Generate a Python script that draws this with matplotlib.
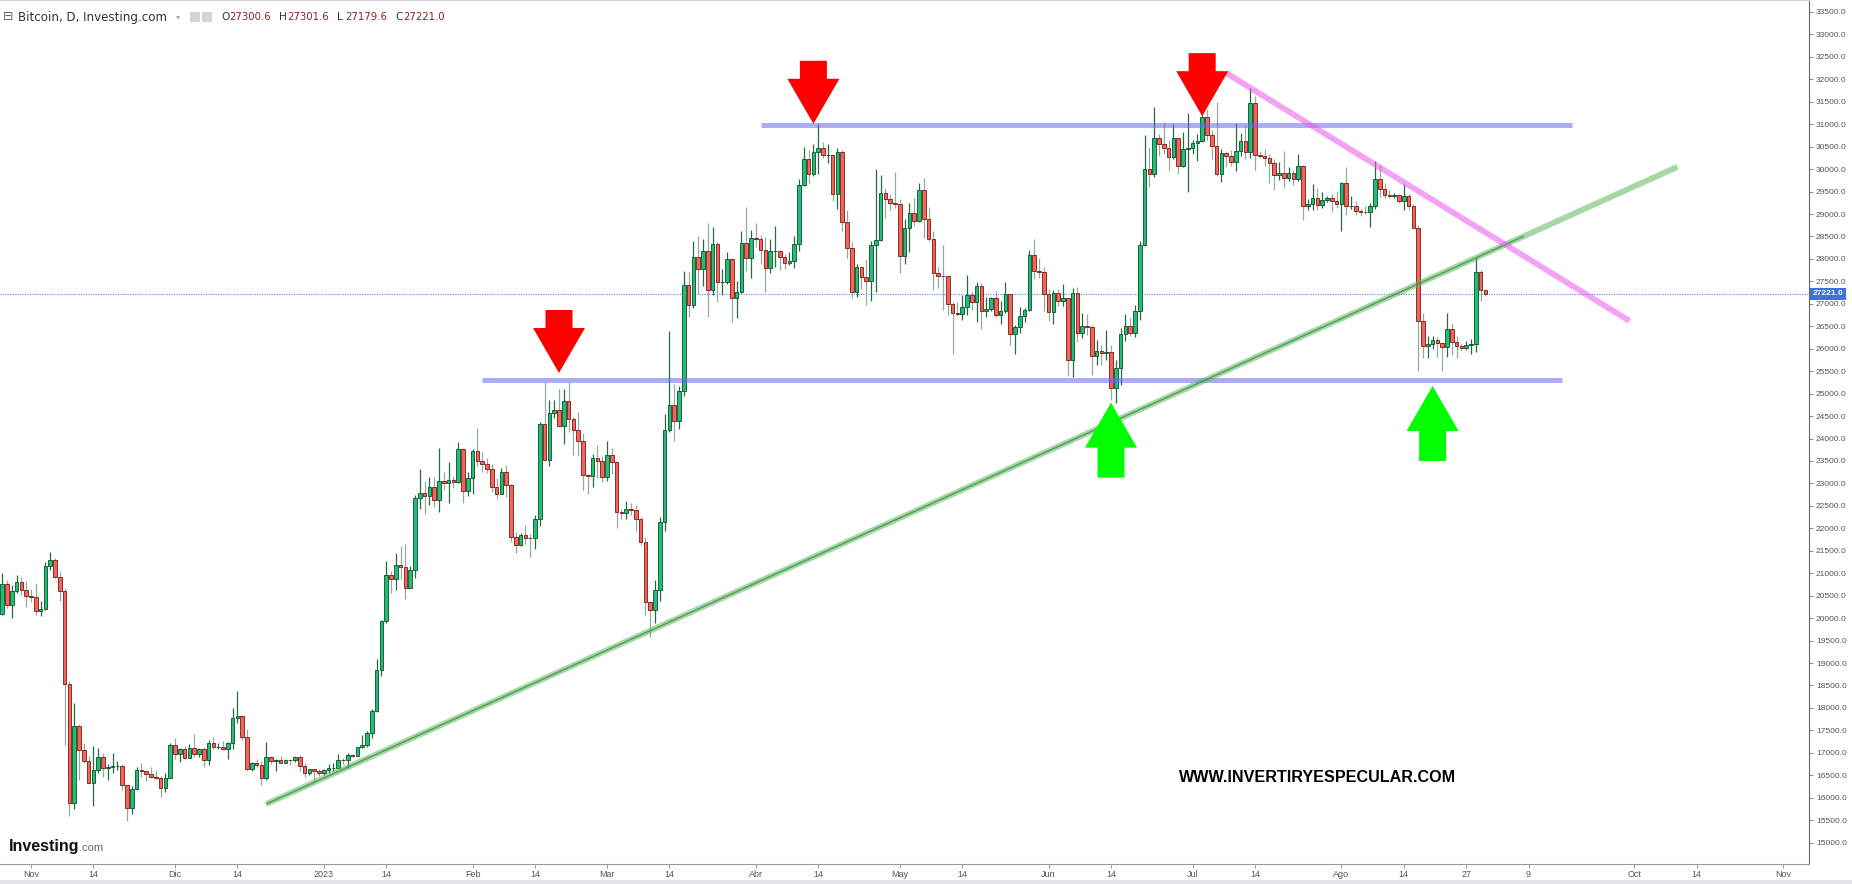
"""
Bitcoin daily candles (Investing.com style) with support/resistance annotations.
Output: out.png
"""
import numpy as np
import pandas as pd
import matplotlib
matplotlib.use("Agg")
import matplotlib.pyplot as plt
import matplotlib.dates as mdates
from matplotlib.patches import Polygon, Rectangle
from matplotlib.transforms import blended_transform_factory
from matplotlib import font_manager

# ---- data: daily BTC/USD, 2022-10-25 .. 2023-08-31 ----
FIRST_DAY = "2022-10-25"
FIRST_OPEN = 19330.0

closes = [
    # oct 25-31
    20090, 20770, 20290, 20600, 20810, 20630, 20490,
    # nov
    20480, 20150, 20210, 21150, 21300, 20910, 20600, 18540, 15880, 17590,
    17070, 16810, 16330, 16620, 16900, 16660, 16690, 16700, 16710, 16280,
    15780, 16200, 16610, 16600, 16520, 16460, 16440, 16220, 16440, 17170,
    # dec
    16970, 17090, 16890, 17110, 16970, 17090, 16840, 17220, 17130, 17130,
    17090, 17210, 17780, 17810, 17360, 16630, 16780, 16740, 16440, 16900,
    16820, 16830, 16780, 16840, 16830, 16910, 16700, 16550, 16630, 16600, 16540,
    # jan
    16610, 16670, 16670, 16850, 16830, 16950, 16940, 17120, 17180, 17440,
    17940, 18850, 19930, 20950, 20870, 21180, 21130, 20680, 21070, 22670,
    22780, 22710, 22920, 22630, 23060, 23010, 23080, 23030, 23770, 22840, 23130,
    # feb
    23730, 23490, 23430, 23330, 22930, 22760, 23260, 22960, 21800, 21630,
    21860, 21790, 21780, 22200, 24330, 23520, 24570, 24630, 24280, 24830,
    24440, 24190, 23940, 23190, 23160, 23560, 23490, 23140,
    # mar
    23630, 23470, 22360, 22350, 22430, 22410, 22200, 21700, 20360, 20190,
    20630, 22140, 24200, 24750, 24380, 25060, 27420, 26970, 28040, 27770,
    28170, 27310, 28330, 27490, 27490, 27990, 27140, 27270, 28350, 28030, 28470,
    # apr
    28450, 28200, 27790, 28170, 28170, 28040, 27910, 27950, 28330, 29650,
    30230, 29890, 30390, 30480, 30320, 30320, 29450, 30390, 28820, 28250,
    27270, 27820, 27590, 27510, 28310, 28420, 29470, 29340, 29240, 29230,
    # may
    28070, 28680, 29030, 28850, 29530, 28900, 28450, 27690, 27630, 27620,
    26990, 26800, 26780, 26930, 27190, 27030, 27400, 26830, 26890, 27120,
    26760, 26850, 27220, 26330, 26480, 26720, 26870, 28080, 27740, 27700, 27220,
    # jun
    26820, 27250, 27070, 27120, 25760, 27240, 26350, 26500, 26480, 25840,
    25940, 25900, 25920, 25120, 25580, 26330, 26510, 26340, 26850, 28310,
    30000, 29890, 30690, 30550, 30470, 30270, 30690, 30080, 30450, 30480,
    # jul
    30590, 30620, 31160, 30770, 30510, 29900, 30350, 30290, 30170, 30410,
    30620, 30390, 31470, 30320, 30290, 30250, 30140, 29860, 29910, 29800,
    29910, 29790, 30080, 29180, 29230, 29350, 29210, 29320, 29350, 29280, 29230,
    # aug
    29700, 29180, 29180, 29070, 29050, 29040, 29180, 29770, 29560, 29430,
    29400, 29420, 29280, 29410, 29170, 28700, 26620, 26050, 26100, 26190,
    26120, 26040, 26430, 26160, 26050, 26010, 26090, 26100, 27720, 27300.6, 27221.0,
]

highs = [
    20370, 21000, 20850, 20740, 20970, 20920, 20830,
    20650, 20790, 20380, 21240, 21470, 21350, 21050, 20680, 18590, 18100,
    17650, 17220, 16920, 17150, 17110, 16990, 16750, 17000, 16810, 16750,
    16290, 16270, 16680, 16780, 16600, 16680, 16600, 16480, 16540, 17230,
    17320, 17110, 17150, 17190, 17420, 17110, 17140, 17290, 17350, 17220,
    17260, 17240, 18000, 18370, 17850, 17530, 16800, 16860, 16810, 17250,
    16920, 16860, 16940, 16860, 16860, 16940, 16960, 16770, 16650, 16640, 16640,
    16630, 16760, 16770, 16980, 16880, 16990, 16970, 17140, 17390, 17490,
    17980, 19090, 19960, 21270, 21060, 21460, 21610, 21640, 21170, 22740,
    23320, 23060, 23150, 23140, 23780, 23250, 23480, 23160, 23930, 23800, 23250,
    23770, 24240, 23700, 23560, 23430, 23130, 23340, 23420, 22990, 21920,
    21900, 22070, 21880, 22300, 24370, 25250, 24860, 24860, 25100, 25100,
    25250, 24470, 24580, 24120, 23200, 23650, 23850, 23600,
    23950, 23780, 23480, 22420, 22610, 22560, 22530, 22250, 21800, 20360,
    20850, 22260, 24540, 26390, 25220, 25180, 27740, 27700, 28400, 28500,
    28440, 28800, 28720, 28370, 27770, 28160, 28010, 27500, 28620, 29160, 28640,
    28800, 28530, 28490, 28440, 28740, 28190, 28100, 28160, 28510, 29770,
    30490, 30420, 30550, 31000, 30600, 30560, 30320, 30480, 30420, 29090,
    28370, 27880, 27830, 28000, 28390, 30000, 29880, 29570, 29440, 29940,
    29330, 28880, 29250, 29360, 29690, 29800, 29160, 28630, 27830, 28320,
    27630, 27050, 27030, 27190, 27650, 27270, 27480, 27470, 27150, 27150,
    27280, 27060, 27480, 27220, 26520, 26920, 26900, 28200, 28440, 28030, 27830,
    27330, 27300, 27330, 27440, 27130, 27350, 27370, 26800, 26780, 26530,
    26200, 26090, 26410, 26090, 25740, 26460, 26770, 26680, 26980, 28400,
    30770, 30490, 31390, 30790, 31040, 30640, 31000, 30700, 30830, 31260,
    30660, 30780, 31380, 31330, 30880, 31500, 30450, 30380, 30430, 31030,
    30800, 30980, 31800, 31630, 30400, 30440, 30330, 30230, 30170, 30400,
    30040, 29990, 30340, 30090, 29330, 29680, 29570, 29500, 29400, 29450, 29510,
    29720, 30050, 29400, 29300, 29110, 29170, 29240, 30180, 30090, 29700,
    29530, 29470, 29450, 29660, 29450, 29230, 28760, 26800, 26280, 26290,
    26260, 26130, 26800, 26570, 26290, 26100, 26170, 26210, 28050, 27760, 27301.6,
]

lows = [
    19260, 20060, 20220, 20000, 20560, 20510, 20250,
    20360, 20070, 20050, 20180, 21080, 20900, 20390, 17170, 15590, 15760,
    16390, 16770, 16310, 15820, 16560, 16460, 16400, 16550, 16620, 16180,
    15480, 15630, 16170, 16470, 16370, 16430, 16410, 16010, 16120, 16430,
    16870, 16800, 16870, 16880, 16900, 16910, 16690, 16740, 17090, 17090,
    17070, 16870, 17080, 17660, 17280, 16590, 16590, 16670, 16280, 16400,
    16750, 16590, 16770, 16770, 16730, 16790, 16600, 16470, 16500, 16340, 16490,
    16500, 16550, 16600, 16660, 16750, 16670, 16910, 16920, 17100, 17140,
    17320, 17910, 18720, 19900, 20560, 20620, 20870, 20430, 20660, 20890,
    22440, 22330, 22520, 22480, 22370, 22850, 22560, 22900, 23000, 22570, 22720,
    22770, 23380, 23250, 23240, 22800, 22650, 22760, 22700, 21700, 21460,
    21600, 21640, 21370, 21540, 22060, 23520, 23380, 24460, 24280, 23880,
    24150, 23630, 23620, 22860, 22760, 22910, 23120, 23040,
    23060, 23200, 22000, 22200, 22210, 22300, 21950, 21630, 20070, 19570,
    19890, 20380, 21940, 24150, 23940, 24220, 24940, 26710, 26900, 27220,
    27400, 26700, 27200, 27050, 27200, 27440, 26600, 26680, 27250, 27740, 27580,
    28260, 27880, 27270, 27680, 27820, 27760, 27780, 27870, 27800, 28180,
    29620, 29670, 29850, 29900, 30240, 30130, 29280, 29110, 28630, 28020,
    27140, 27150, 27340, 26970, 27070, 27260, 28400, 28910, 29100, 29130,
    27680, 27890, 28150, 28730, 28820, 28470, 28410, 27300, 27350, 26870,
    26760, 25880, 26720, 26650, 26760, 26870, 26590, 26450, 26700, 26850,
    26700, 26550, 26800, 26090, 25880, 26340, 26600, 26850, 27550, 27580, 26850,
    26620, 26540, 26960, 26950, 25400, 25380, 26150, 26240, 26300, 25410,
    25640, 25640, 25740, 24850, 24790, 25200, 26180, 26290, 26260, 26650,
    28290, 29600, 29820, 30290, 30330, 29960, 30230, 29900, 30050, 29500,
    30330, 30180, 30600, 30640, 30220, 29850, 29720, 30050, 30070, 29960,
    30300, 30220, 30250, 29970, 30240, 30080, 29690, 29530, 29760, 29580,
    29730, 29640, 29740, 28870, 29080, 29100, 29090, 29130, 29270, 29050, 29130,
    28620, 28970, 29120, 28970, 28960, 28990, 28720, 29120, 29380, 29360,
    29350, 29360, 29250, 29100, 29090, 28700, 25500, 25800, 25790, 26000,
    25820, 25500, 25810, 25860, 25790, 25980, 25970, 25880, 25920, 27070, 27179.6,
]

# header (last candle)
header_ohlc = [("O", "27300.6"), ("H", "27301.6"), ("L", "27179.6"), ("C", "27221.0")]
last_price = 27221.0

# annotations drawn on the chart
level_lines = [  # (start, end, price)
    ("2023-04-02", "2023-09-18", 30990),
    ("2023-02-03", "2023-09-16", 25300),
]
trend_up = ("2022-12-20", 15860, "2023-10-10", 30050)
trend_up_core_end = "2023-09-08"
trend_down = ("2023-07-08", 32140, "2023-09-30", 26620)
red_arrows = [("2023-02-19", 25460), ("2023-04-13", 31010), ("2023-07-03", 31180)]
green_arrows = [("2023-06-14", 24800), ("2023-08-20", 25170)]

tick_dates = ["2022-11-01", "2022-11-14", "2022-12-01", "2022-12-14", "2023-01-01",
              "2023-01-14", "2023-02-01", "2023-02-14", "2023-03-01", "2023-03-14",
              "2023-04-01", "2023-04-14", "2023-05-01", "2023-05-14", "2023-06-01",
              "2023-06-14", "2023-07-01", "2023-07-14", "2023-08-01", "2023-08-14",
              "2023-08-27", "2023-09-09", "2023-10-01", "2023-10-14", "2023-11-01"]
tick_labels = ["Nov", "14", "Dic", "14", "2023", "14", "Feb", "14", "Mar", "14",
               "Abr", "14", "May", "14", "Jun", "14", "Jul", "14", "Ago", "14",
               "27", "9", "Oct", "14", "Nov"]

# ---- layout ----
W, H = 1852, 884
PX_PER_DAY = 4.8
AX_W, AX_BOTTOM = 1809, 864
YLIM = (14524, 33767)

installed = {f.name for f in font_manager.fontManager.ttflist}
narrow = "Liberation Sans Narrow" if "Liberation Sans Narrow" in installed else "Liberation Sans"


def d2n(s):
    return mdates.date2num(pd.Timestamp(s))


def fx(px):
    return px / W


def fy(py):
    return 1 - py / H


dates = mdates.date2num(pd.date_range(FIRST_DAY, periods=len(closes), freq="D"))
c = np.array(closes, float)
o = np.concatenate([[FIRST_OPEN], c[:-1]])
h = np.maximum(np.array(highs, float), np.maximum(o, c))
lo = np.minimum(np.array(lows, float), np.minimum(o, c))
up = c >= o

fig = plt.figure(figsize=(W / 100, H / 100), dpi=100)
fig.patch.set_facecolor("white")
ax = fig.add_axes([0, (H - AX_BOTTOM) / H, AX_W / W, AX_BOTTOM / H])

x_left = d2n("2022-11-01") - 31 / PX_PER_DAY
ax.set_xlim(x_left, x_left + AX_W / PX_PER_DAY)
ax.set_ylim(*YLIM)
days_per_px = 1 / PX_PER_DAY
price_per_px = (YLIM[1] - YLIM[0]) / AX_BOTTOM

# candles
ax.vlines(dates[up], lo[up], h[up], color="#2a6a42", lw=0.9, zorder=2)
ax.vlines(dates[~up], lo[~up], h[~up], color="#93ac9d", lw=0.9, zorder=2)
ax.bar(dates[up], (c - o)[up], bottom=o[up], width=0.72, color="#1fbf76",
       edgecolor="#0d4d2b", linewidth=0.6, zorder=3)
ax.bar(dates[~up], (o - c)[~up], bottom=c[~up], width=0.72, color="#f2655b",
       edgecolor="#7a1812", linewidth=0.6, zorder=3)

# last price line + label
ax.axhline(last_price, color="#5b84f5", lw=0.8, ls=(0, (1, 1.2)), zorder=1)
ax.text(1.002, last_price, f"{last_price:.1f}", transform=blended_transform_factory(ax.transAxes, ax.transData),
        ha="left", va="center", color="white", fontsize=6, fontweight="bold", family="Liberation Sans",
        bbox=dict(boxstyle="square,pad=0.28", fc="#3e6fe3", ec="none"), zorder=6, clip_on=False)

# horizontal levels
for start, end, price in level_lines:
    ax.plot([d2n(start), d2n(end)], [price, price], color="#6666f0", alpha=0.55, lw=3.6,
            solid_capstyle="butt", zorder=4)

# trend lines
d0, p0, d1, p1 = trend_up
ax.plot([d2n(d0), d2n(d1)], [p0, p1], color="#5cb85c", alpha=0.55, lw=4.2,
        solid_capstyle="butt", zorder=4)
t = (d2n(trend_up_core_end) - d2n(d0)) / (d2n(d1) - d2n(d0))
ax.plot([d2n(d0), d2n(trend_up_core_end)], [p0, p0 + t * (p1 - p0)], color="#3a8a48",
        alpha=0.75, lw=1.1, solid_capstyle="butt", zorder=4)
d0, p0, d1, p1 = trend_down
ax.plot([d2n(d0), d2n(d1)], [p0, p1], color="#ee55ee", alpha=0.55, lw=4.2,
        solid_capstyle="butt", zorder=4)


def block_arrow(date, price, pointing, color, shaft_len):
    hw, hh, sw = 26, 45, 13.5
    s = 1 if pointing == "down" else -1
    pts = [(0, 0), (-hw, hh), (-sw, hh), (-sw, hh + shaft_len),
           (sw, hh + shaft_len), (sw, hh), (hw, hh)]
    xy = [(d2n(date) + px * days_per_px, price + s * py * price_per_px) for px, py in pts]
    ax.add_patch(Polygon(xy, closed=True, fc=color, ec="none", zorder=5))


for date, price in red_arrows:
    block_arrow(date, price, "down", "#ff0000", 18)
for date, price in green_arrows:
    block_arrow(date, price, "up", "#00ff00", 30)

# axes styling
ax.spines["left"].set_visible(False)
ax.spines["top"].set_color("#d6d6d6")
ax.spines["right"].set_color("#666666")
ax.spines["bottom"].set_color("#999999")
for sp in ax.spines.values():
    sp.set_linewidth(0.8)

ax.yaxis.tick_right()
ax.set_yticks(np.arange(15000, 33501, 500))
ax.set_yticklabels([f"{v:.1f}" for v in np.arange(15000, 33501, 500)], family="Liberation Sans")
ax.tick_params(axis="y", length=3, width=0.6, color="#777777", labelsize=6,
               labelcolor="#555555", pad=2)
ax.set_xticks([d2n(d) for d in tick_dates])
ax.set_xticklabels(tick_labels, family=narrow)
ax.tick_params(axis="x", length=3, width=0.6, color="#888888", labelsize=6.5,
               labelcolor="#555555", pad=1.5)

# header
fig.text(fx(3), fy(17), "\u229f", fontsize=9, color="#666666", va="center", family="DejaVu Sans")
fig.text(fx(18), fy(17), "Bitcoin, D, Investing.com", fontsize=8.6, color="#333333",
         va="center", family="DejaVu Sans")
fig.text(fx(176), fy(17), "\u25be", fontsize=6, color="#aaaaaa", va="center", family="DejaVu Sans")
for x0 in (190, 202):
    fig.add_artist(Rectangle((fx(x0), fy(22)), 10 / W, 10 / H, transform=fig.transFigure,
                             fc="#d4d4d4", ec="none"))
for (letter, val), x0 in zip(header_ohlc, (221, 279, 337, 395)):
    fig.text(fx(x0), fy(17), letter, fontsize=7.6, color="#333333", va="center", family="DejaVu Sans")
    fig.text(fx(x0 + 8.5), fy(17), val, fontsize=7.3, color="#8b2222", va="center", family="DejaVu Sans")

# watermark + logo
fig.text(fx(1179), fy(777), "WWW.INVERTIRYESPECULAR.COM", fontsize=11.6, fontweight="bold",
         color="black", va="center", family="Liberation Sans")
fig.text(fx(9), fy(846), "Investing", fontsize=11.5, fontweight="bold", color="#111111",
         va="center", family="Liberation Sans")
fig.text(fx(79), fy(848), ".com", fontsize=8, color="#666666", va="center", family="Liberation Sans")

# bottom strip
fig.add_artist(Rectangle((0, 0), 1, 4 / H, transform=fig.transFigure, fc="#e4e4e9", ec="none"))

fig.savefig("out.png", dpi=100)
plt.close(fig)
